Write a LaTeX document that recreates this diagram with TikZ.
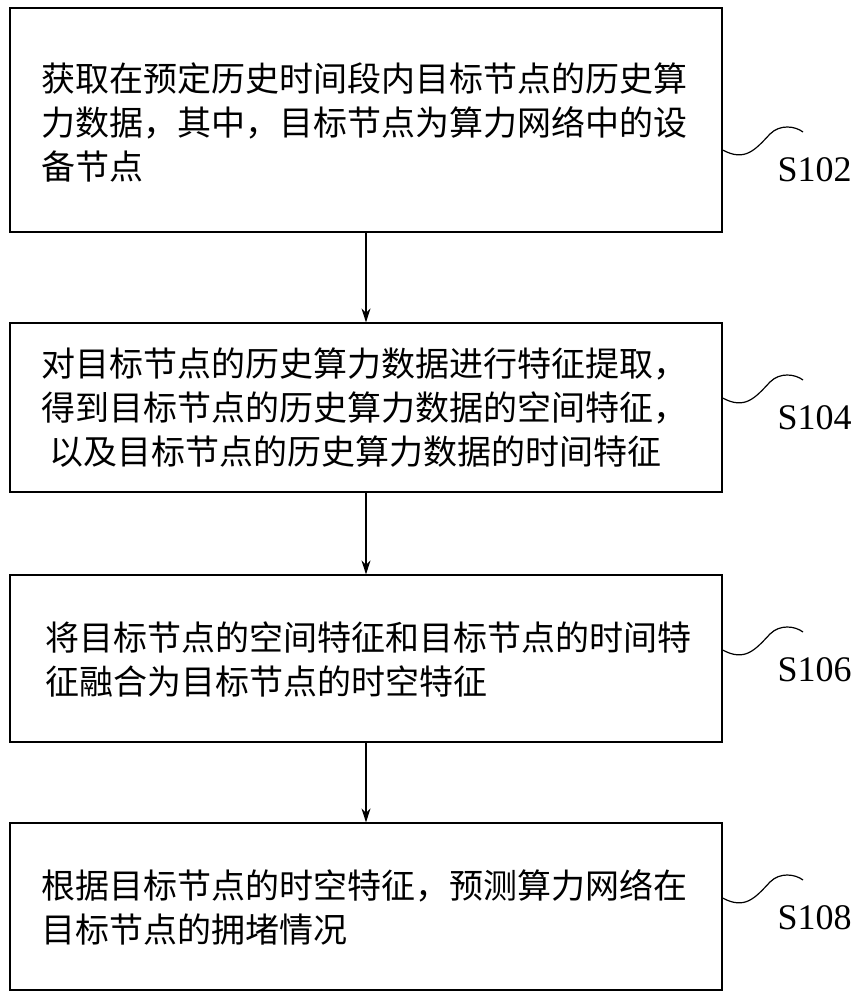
\documentclass[tikz,border=0pt]{standalone}
\usepackage{fontspec}
\setmainfont{Liberation Serif}
\newfontfamily\cjk{Noto Sans CJK SC}
\usetikzlibrary{positioning,arrows.meta}
\tikzset{
 stepbox/.style={rectangle,draw,line width=1.2pt,minimum width=712pt,inner sep=0pt},
 steptext/.style={anchor=west,align=left,font=\cjk\fontsize{34}{44}\selectfont},
 steplabel/.style={anchor=west,font=\fontsize{36}{36}\selectfont},
 flow/.style={-{Stealth[length=14pt,width=9pt]},line width=1.2pt}
}
\begin{document}
\begin{tikzpicture}[x=1pt,y=-1pt]
 \useasboundingbox (0,0) rectangle (866,1000);
 \node[stepbox,minimum height=224pt] (box1) at (366,120) {};
 \node[stepbox,minimum height=169pt] (box2) at (366,407.5) {};
 \node[stepbox,minimum height=167pt] (box3) at (366,658.5) {};
 \node[stepbox,minimum height=167pt] (box4) at (366,906.5) {};

 \node[steptext] (text1) at (38,122) {获取在预定历史时间段内目标节点的历史算\\力数据，其中，目标节点为算力网络中的设\\备节点};
 \node[steptext] (text2) at (38,408) {对目标节点的历史算力数据进行特征提取，\\得到目标节点的历史算力数据的空间特征，\\\ 以及目标节点的历史算力数据的时间特征};
 \node[steptext] (text3) at (42,659) {将目标节点的空间特征和目标节点的时间特\\征融合为目标节点的时空特征};
 \node[steptext] (text4) at (38,907) {根据目标节点的时空特征，预测算力网络在\\目标节点的拥堵情况};

 \node[steplabel] (lab1) at (774,170) {S102};
 \node[steplabel] (lab2) at (774,418) {S104};
 \node[steplabel] (lab3) at (774,670) {S106};
 \node[steplabel] (lab4) at (774,918) {S108};

 % squiggles from box edge to labels
 \foreach \b/\y in {box1/150,box2/398,box3/650,box4/898}{
  \coordinate (tip-\b) at (803,\y-18);
  \draw[line width=1.2pt] (\b.east |- 0,\y) .. controls (745,\y+12) and (755,\y) .. (770,\y-16)
   .. controls (780,\y-26) and (795,\y-24) .. (tip-\b);
 }

 \draw[flow] (box1) -- (box2);
 \draw[flow] (box2) -- (box3);
 \draw[flow] (box3) -- (box4);
\end{tikzpicture}
\end{document}
